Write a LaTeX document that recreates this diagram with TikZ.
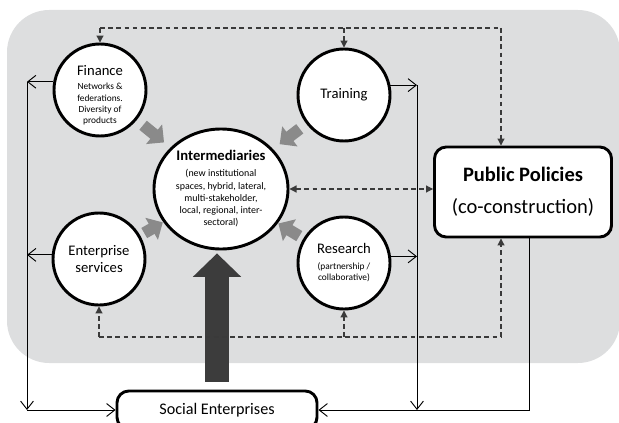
\documentclass[tikz,border=0pt]{standalone}
\usepackage{fontspec}
\setmainfont{Carlito}
\usetikzlibrary{arrows.meta,shapes.geometric}
\definecolor{panel}{HTML}{DDDEDF}
\definecolor{pointer}{HTML}{8A8A8A}
\definecolor{thrust}{HTML}{3C3C3C}
\definecolor{link}{HTML}{3A3A3A}

\begin{document}
\begin{tikzpicture}[x=0.03cm, y=-0.03cm,
        actor/.style={circle, draw, line width=2.5pt, fill=white, minimum size=2.76cm, inner sep=0pt, align=center, font=\fontsize{12.5}{15}\selectfont},
        policybox/.style={rectangle, draw, rounded corners=10pt, line width=2.5pt, fill=white, align=center},
        flow/.style={-{Straight Barb[length=7pt,width=11pt]}, line width=0.8pt},
        feedback/.style={draw=link, line width=0.9pt, dash pattern=on 4pt off 3pt},
        tip/.style={-{Triangle[length=6pt,width=6pt]}, link},
        push/.style={draw=pointer, line width=10pt, -{Triangle[length=11pt,width=21pt]}, shorten <=7pt, shorten >=7pt},
        pushup/.style={push, shorten <=4pt, shorten >=0.5pt}]
        \path[use as bounding box, clip] (0,0) rectangle (619,423);
        \fill[panel, rounded corners=36pt] (7,10) rectangle (620,363);

        % actors round the intermediaries
        \node[actor] (fin) at (100,90) {};
        \node[align=center, inner sep=0pt, font=\fontsize{8}{9.5}\selectfont] (fintext) at (100,95) {{\fontsize{12.5}{15}\selectfont Finance}\\[3pt]Networks \&\\federations.\\Diversity of\\products};
        \node[actor] (trn) at (344,95) {Training};
        \node[actor] (es) at (99,259) {Enterprise\\services};
        \node[actor, font=\fontsize{8}{9.5}\selectfont] (res) at (344,263) {{\fontsize{12.5}{15}\selectfont Research}\\[4pt](partnership /\\collaborative)};
        \node[ellipse, draw, line width=2.5pt, fill=white, minimum width=4.02cm, minimum height=3.6cm, inner sep=0pt, align=center, font=\fontsize{8.5}{10.5}\selectfont] (inter) at (221,189) {{\bfseries\fontsize{12.5}{15}\selectfont Intermediaries}\\[3pt](new institutional\\spaces, hybrid, lateral,\\multi-stakeholder,\\local, regional, inter-\\sectoral)};
        \node[policybox, minimum width=5.31cm, minimum height=2.7cm, font=\fontsize{17.5}{21}\selectfont] (pp) at (523,192) {{\bfseries Public Policies}\\[6pt](co-construction)};
        \node[policybox, minimum width=6cm, minimum height=1.14cm, font=\fontsize{13.8}{16}\selectfont] (se) at (217,410) {Social Enterprises};

        \coordinate (lx) at (27,410);
        \coordinate (rx) at (417,410);
        \coordinate (px) at (529,410);
        \coordinate (tr) at (501,28);
        \coordinate (br) at (501,337);

        % pushes into the intermediaries
        \draw[push] (fin) -- (inter);
        \draw[push] (trn) -- (inter);
        \draw[pushup] (es) -- (inter);
        \draw[pushup] (res) -- (inter);
        \draw[thrust, line width=20.4pt, -{Triangle[length=20pt,width=40pt]}, shorten <=6.5pt, shorten >=2.5pt] (se.north) -- (se.north |- inter.south);

        % left loop
        \draw[flow] (fin.170) -- (fin.170 -| lx);
        \draw[flow] (es.175) -- (es.175 -| lx);
        \draw[flow] (fin.170 -| lx) -- (lx);
        \draw[flow] (lx) -- (se.west);

        % right loop
        \draw[flow] (trn.12) -- (trn.12 -| rx);
        \draw[flow] (res.8) -- (res.8 -| rx);
        \draw[flow] (trn.12 -| rx) -- (rx);
        \draw[flow] (pp.south -| px) -- (px) -- (se.east);

        % policy feedback
        \draw[feedback] (fin.north |- tr) -- (tr);
        \draw[feedback, tip] (tr) -- (tr |- pp.north);
        \draw[feedback, tip] (fin.north |- tr) -- (fin.north);
        \draw[feedback, tip] (trn.north |- tr) -- (trn.north);
        \draw[feedback] (es.south |- br) -- (br);
        \draw[feedback, tip] (br) -- (br |- pp.south);
        \draw[feedback, tip] (es.south |- br) -- (es.south);
        \draw[feedback, tip] (res.south |- br) -- (res.south);
        \draw[feedback, {Triangle[length=6pt,width=6pt]}-{Triangle[length=6pt,width=6pt]}] (inter.east) -- (inter.east -| pp.west);
    \end{tikzpicture}
\end{document}
